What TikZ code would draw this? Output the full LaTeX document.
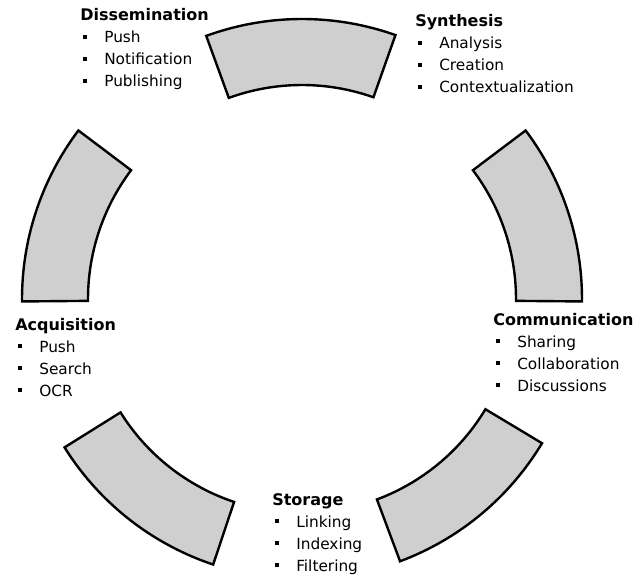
\documentclass[tikz,border=0pt]{standalone}
\usepackage{fontspec}
\setmainfont{DejaVu Sans}
% small square bullet followed by the indent of the item text
\newcommand\stagebullet{\makebox[18pt][l]{\hspace*{2.25pt}\rule[2.7pt]{3pt}{3pt}}}
\newcommand\stagetitle[1]{\multicolumn{2}{@{}l@{}}{\fontsize{12pt}{16.5pt}\selectfont\bfseries #1}}
\begin{document}
\begin{tikzpicture}[x=0.75pt,y=0.75pt,
  phase/.style={draw=black, line width=1.8pt, fill=black!19, line join=miter},
  stagetext/.style={anchor=base west, inner sep=0pt, font=\fontsize{11.5pt}{16.5pt}\selectfont}]
\useasboundingbox (0,0) rectangle (638,-581);
\coordinate (hub) at (302,-299);

% ring segments: outer arc, radial edge, inner arc back, radial edge
\foreach \a/\b in {-0.5/37, 70.5/110, 143/180.5, 212/251.5, 290.5/329}{
  \draw[phase] ([shift={(\a:280)}]hub) arc[start angle=\a, end angle=\b, radius=280]
    -- ([shift={(\b:214)}]hub) arc[start angle=\b, end angle=\a, radius=214] -- cycle;
}

\node[stagetext] (diss) at (80,-21) {\begin{tabular}[t]{@{}l@{}l@{}}
  \stagetitle{Dissemination}\\
  \stagebullet & Push\\
  \stagebullet & Notification\\
  \stagebullet & Publishing
\end{tabular}};

\node[stagetext] (synth) at (415,-27) {\begin{tabular}[t]{@{}l@{}l@{}}
  \stagetitle{Synthesis}\\
  \stagebullet & Analysis\\
  \stagebullet & Creation\\
  \stagebullet & Contextualization
\end{tabular}};

\node[stagetext] (acq) at (15,-330) {\begin{tabular}[t]{@{}l@{}l@{}}
  \stagetitle{Acquisition}\\
  \stagebullet & Push\\
  \stagebullet & Search\\
  \stagebullet & OCR
\end{tabular}};

\node[stagetext] (comm) at (493,-325) {\begin{tabular}[t]{@{}l@{}l@{}}
  \stagetitle{Communication}\\
  \stagebullet & Sharing\\
  \stagebullet & Collaboration\\
  \stagebullet & Discussions
\end{tabular}};

\node[stagetext] (stor) at (272,-505) {\begin{tabular}[t]{@{}l@{}l@{}}
  \stagetitle{Storage}\\
  \stagebullet & Linking\\
  \stagebullet & Indexing\\
  \stagebullet & Filtering
\end{tabular}};
\end{tikzpicture}
\end{document}
